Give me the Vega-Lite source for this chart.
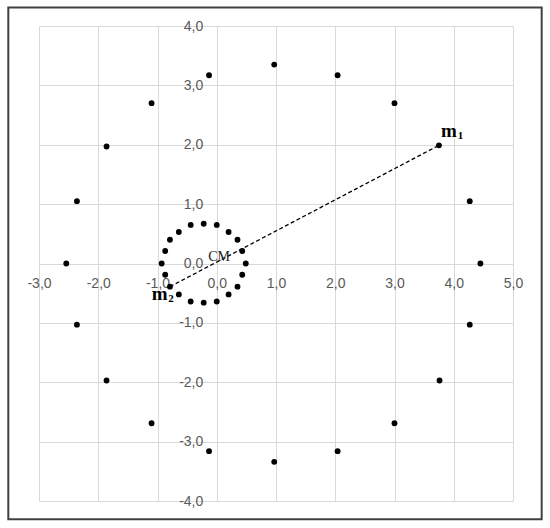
{
  "$schema": "https://vega.github.io/schema/vega-lite/v6.json",
  "width": 474,
  "height": 475,
  "autosize": "none",
  "padding": {"left": 39, "top": 26, "right": 37, "bottom": 27},
  "background": "white",
  "config": {"view": {"stroke": null}},
  "datasets": {
    "points": [
      {"ring": "outer", "x": 0.97, "y": 3.35}, {"ring": "outer", "x": 2.04, "y": 3.17},
      {"ring": "outer", "x": 3.0, "y": 2.7}, {"ring": "outer", "x": 3.75, "y": 1.99},
      {"ring": "outer", "x": 4.27, "y": 1.05}, {"ring": "outer", "x": 4.45, "y": 0.0},
      {"ring": "outer", "x": 4.27, "y": -1.03}, {"ring": "outer", "x": 3.76, "y": -1.97},
      {"ring": "outer", "x": 3.0, "y": -2.69}, {"ring": "outer", "x": 2.04, "y": -3.16},
      {"ring": "outer", "x": 0.97, "y": -3.34}, {"ring": "outer", "x": -0.13, "y": -3.16},
      {"ring": "outer", "x": -1.1, "y": -2.69}, {"ring": "outer", "x": -1.86, "y": -1.97},
      {"ring": "outer", "x": -2.36, "y": -1.03}, {"ring": "outer", "x": -2.54, "y": 0.0},
      {"ring": "outer", "x": -2.36, "y": 1.05}, {"ring": "outer", "x": -1.86, "y": 1.97},
      {"ring": "outer", "x": -1.1, "y": 2.7}, {"ring": "outer", "x": -0.13, "y": 3.17},
      {"ring": "inner", "x": -0.22, "y": 0.67}, {"ring": "inner", "x": 0.0, "y": 0.65},
      {"ring": "inner", "x": 0.2, "y": 0.53}, {"ring": "inner", "x": 0.35, "y": 0.4},
      {"ring": "inner", "x": 0.43, "y": 0.21}, {"ring": "inner", "x": 0.49, "y": 0.0},
      {"ring": "inner", "x": 0.43, "y": -0.19}, {"ring": "inner", "x": 0.35, "y": -0.39},
      {"ring": "inner", "x": 0.2, "y": -0.52}, {"ring": "inner", "x": 0.0, "y": -0.64},
      {"ring": "inner", "x": -0.22, "y": -0.66}, {"ring": "inner", "x": -0.44, "y": -0.64},
      {"ring": "inner", "x": -0.64, "y": -0.52}, {"ring": "inner", "x": -0.79, "y": -0.39},
      {"ring": "inner", "x": -0.87, "y": -0.19}, {"ring": "inner", "x": -0.93, "y": 0.0},
      {"ring": "inner", "x": -0.87, "y": 0.21}, {"ring": "inner", "x": -0.79, "y": 0.4},
      {"ring": "inner", "x": -0.64, "y": 0.53}, {"ring": "inner", "x": -0.44, "y": 0.65}
    ]
  },
  "layer": [
    {
      "data": {"values": [{"x": -3.518, "x2": 5.484, "y": -4.308, "y2": 4.31}]},
      "mark": {"type": "rect", "fill": null, "stroke": "#404040", "strokeWidth": 2, "clip": false},
      "encoding": {
        "x": {"field": "x", "type": "quantitative"},
        "x2": {"field": "x2"},
        "y": {"field": "y", "type": "quantitative"},
        "y2": {"field": "y2"}
      }
    },
    {
      "data": {"name": "points"},
      "mark": {"type": "circle", "color": "black", "opacity": 1, "size": 34},
      "encoding": {
        "x": {
          "field": "x", "type": "quantitative",
          "scale": {"domain": [-3, 5], "nice": false, "zero": false},
          "axis": {
            "orient": "bottom", "offset": -237.5, "title": null,
            "values": [-3, -2, -1, 0, 1, 2, 3, 4, 5],
            "grid": true, "gridColor": "#d9d9d9", "gridWidth": 1,
            "domain": false, "ticks": false,
            "labelExpr": "(datum.value < 0 ? '-' : '') + replace(format(abs(datum.value), '.1f'), '.', ',')",
            "labelFont": "Liberation Sans", "labelFontSize": 14, "labelColor": "#595959",
            "labelPadding": 13, "labelOverlap": false, "labelFlush": false
          }
        },
        "y": {
          "field": "y", "type": "quantitative",
          "scale": {"domain": [-4, 4], "nice": false, "zero": false},
          "axis": {
            "orient": "left", "offset": -177.75, "title": null,
            "values": [-4, -3, -2, -1, 0, 1, 2, 3, 4],
            "grid": true, "gridColor": "#d9d9d9", "gridWidth": 1,
            "domain": false, "ticks": false,
            "labelExpr": "(datum.value < 0 ? '-' : '') + replace(format(abs(datum.value), '.1f'), '.', ',')",
            "labelFont": "Liberation Sans", "labelFontSize": 14, "labelColor": "#595959",
            "labelPadding": 14, "labelOverlap": false, "labelFlush": false
          }
        }
      }
    },
    {
      "data": {"values": [{"x": -0.79, "y": -0.39, "x2": 3.75, "y2": 1.99}]},
      "mark": {"type": "rule", "color": "black", "strokeWidth": 1.3, "strokeDash": [4, 2.5]},
      "encoding": {
        "x": {"field": "x", "type": "quantitative"},
        "y": {"field": "y", "type": "quantitative"},
        "x2": {"field": "x2"},
        "y2": {"field": "y2"}
      }
    },
    {
      "data": {"values": [{"label": "m", "x": 3.785, "y": 2.13}, {"label": "m", "x": -1.098, "y": -0.615}]},
      "mark": {"type": "text", "font": "Liberation Serif", "fontWeight": "bold", "fontSize": 19, "align": "left", "baseline": "alphabetic", "color": "black"},
      "encoding": {
        "x": {"field": "x", "type": "quantitative"},
        "y": {"field": "y", "type": "quantitative"},
        "text": {"field": "label"}
      }
    },
    {
      "data": {"values": [{"label": "1", "x": 4.067, "y": 2.097}, {"label": "2", "x": -0.818, "y": -0.643}]},
      "mark": {"type": "text", "font": "Liberation Serif", "fontWeight": "bold", "fontSize": 11, "align": "left", "baseline": "alphabetic", "color": "black"},
      "encoding": {
        "x": {"field": "x", "type": "quantitative"},
        "y": {"field": "y", "type": "quantitative"},
        "text": {"field": "label"}
      }
    },
    {
      "data": {"values": [{"label": "CM", "x": -0.143, "y": 0.034}]},
      "mark": {"type": "text", "font": "Liberation Serif", "fontSize": 14, "align": "left", "baseline": "alphabetic", "color": "#222222"},
      "encoding": {
        "x": {"field": "x", "type": "quantitative"},
        "y": {"field": "y", "type": "quantitative"},
        "text": {"field": "label"}
      }
    }
  ]
}
